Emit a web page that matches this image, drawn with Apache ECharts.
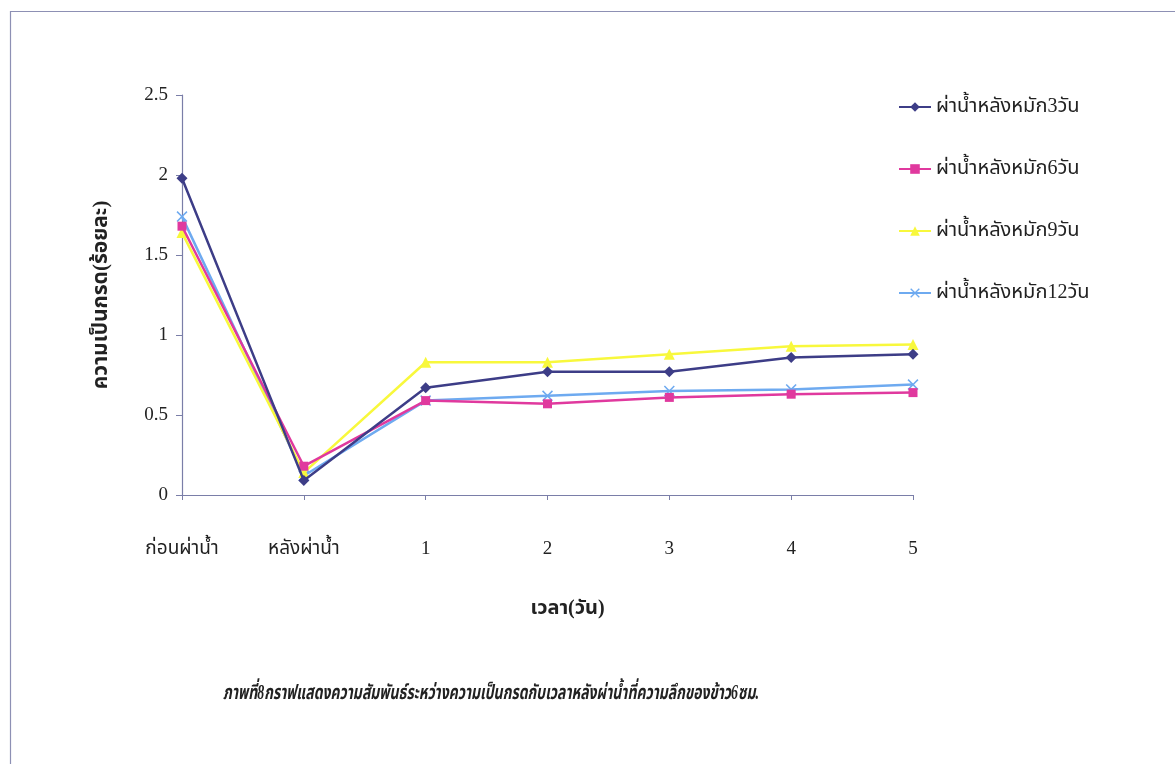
<!DOCTYPE html>
<html>
<head>
<meta charset="utf-8">
<script src="https://cdn.jsdelivr.net/npm/echarts@6/dist/echarts.min.js"></script>
<style>
  html, body { margin: 0; padding: 0; background: #ffffff; }
  #chart { width: 1175px; height: 764px; }
</style>
</head>
<body>
<div id="chart"></div>
<script>
// Sampling times
const categories = ['ก่อนผ่าน้ำ', 'หลังผ่าน้ำ', '1', '2', '3', '4', '5'];

// Acidity (%) for each soaking period
const seriesNames = ['ผ่าน้ำหลังหมัก3วัน', 'ผ่าน้ำหลังหมัก6วัน', 'ผ่าน้ำหลังหมัก9วัน', 'ผ่าน้ำหลังหมัก12วัน'];
const soak3 = [1.98, 0.09, 0.67, 0.77, 0.77, 0.86, 0.88];
const soak6 = [1.68, 0.18, 0.59, 0.57, 0.61, 0.63, 0.64];
const soak9 = [1.64, 0.14, 0.83, 0.83, 0.88, 0.93, 0.94];
const soak12 = [1.74, 0.12, 0.59, 0.62, 0.65, 0.66, 0.69];

const yTicks = [0, 0.5, 1, 1.5, 2, 2.5];
const yTickLabels = ['0', '0.5', '1', '1.5', '2', '2.5'];

const thaiFont = "'Liberation Serif', 'Noto Sans Thai', serif";
const axisColor = '#7a7ea8';

const crossPath = 'path://M0,1L1,0L5,4L9,0L10,1L6,5L10,9L9,10L5,6L1,10L0,9L4,5Z';

const styles = [
  { color: '#3d3d87', symbol: 'diamond', size: 11 },
  { color: '#e0399e', symbol: 'rect', size: 9 },
  { color: '#f8f83c', symbol: 'triangle', size: 11 },
  { color: '#6eaaf0', symbol: crossPath, size: 11 }
];
const values = [soak3, soak6, soak9, soak12];

const chart = echarts.init(document.getElementById('chart'));
chart.setOption({
  backgroundColor: '#ffffff',
  animation: false,
  graphic: [{
    type: 'rect',
    left: 8, top: 9,
    shape: { width: 1200, height: 800 },
    style: { fill: 'none', stroke: '#8d90b4', lineWidth: 1.2 },
    silent: true
  }, {
    type: 'text',
    x: 491,
    y: 694,
    scaleX: 0.70,
    style: {
      text: 'ภาพที่8กราฟแสดงความสัมพันธ์ระหว่างความเป็นกรดกับเวลาหลังผ่าน้ำที่ความลึกของข้าว6ซม.',
      font: "italic bold 20px " + thaiFont,
      fill: '#222222',
      align: 'center',
      verticalAlign: 'middle'
    },
    silent: true
  }],
  grid: { left: 182, right: 262, top: 95, bottom: 269 },
  legend: {
    orient: 'vertical',
    left: 893,
    top: 92,
    itemGap: 42,
    itemWidth: 32,
    itemHeight: 12,
    textStyle: { fontFamily: thaiFont, fontSize: 20, color: '#222222' },
    data: seriesNames
  },
  xAxis: {
    type: 'category',
    data: categories,
    boundaryGap: false,
    name: 'เวลา(วัน)',
    nameLocation: 'middle',
    nameGap: 104,
    nameTextStyle: { fontFamily: thaiFont, fontSize: 20, fontWeight: 'bold', color: '#222222', padding: [0, 0, 0, 40] },
    axisLine: { lineStyle: { color: axisColor, width: 1.2 } },
    axisTick: { alignWithLabel: true, length: 5, lineStyle: { color: axisColor } },
    axisLabel: { margin: 45, fontFamily: thaiFont, fontSize: 19, color: '#222222', interval: 0 },
    splitLine: { show: false }
  },
  yAxis: {
    type: 'value',
    min: 0, max: 2.5, interval: 0.5,
    name: 'ความเป็นกรด(ร้อยละ)',
    nameLocation: 'middle',
    nameGap: 70,
    nameTextStyle: { fontFamily: thaiFont, fontSize: 21, fontWeight: 'bold', color: '#222222' },
    axisLine: { show: true, lineStyle: { color: axisColor, width: 1.2 } },
    axisTick: { show: true, length: 6, lineStyle: { color: axisColor } },
    axisLabel: {
      margin: 14, fontFamily: thaiFont, fontSize: 19, color: '#222222',
      formatter: v => yTickLabels[yTicks.indexOf(v)] ?? ''
    },
    splitLine: { show: false }
  },
  series: seriesNames.map((n, i) => ({
    name: n,
    type: 'line',
    data: values[i],
    symbol: styles[i].symbol,
    symbolSize: styles[i].size,
    z: 10 - i,
    lineStyle: { color: styles[i].color, width: 2.5 },
    itemStyle: { color: styles[i].color }
  }))
});
</script>
</body>
</html>
